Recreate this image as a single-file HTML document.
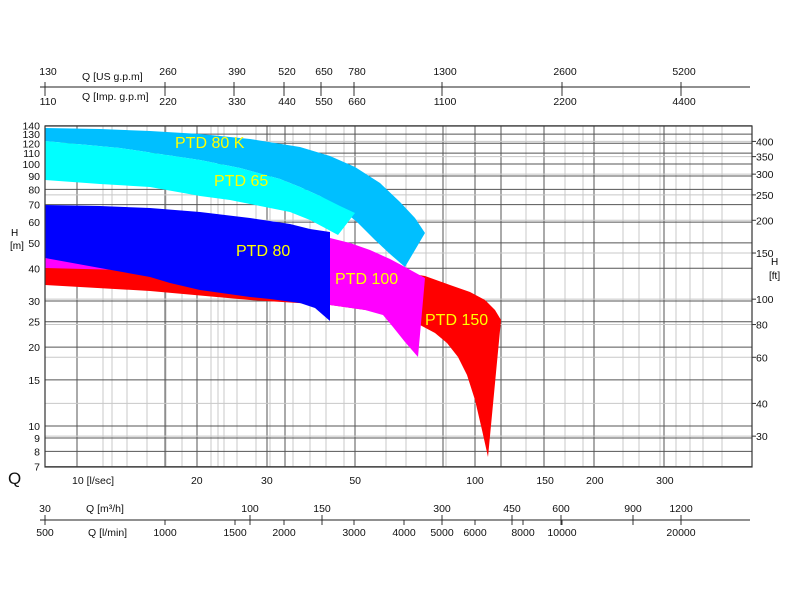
<!DOCTYPE html>
<html><head><meta charset="utf-8"><style>
html,body{margin:0;padding:0;background:#fff}
svg{display:block;font-family:"Liberation Sans",Arial,sans-serif}
</style></head><body>
<svg id="s" width="800" height="600" viewBox="0 0 800 600" xmlns="http://www.w3.org/2000/svg">
<g id="grid"></g>
<path fill="#ff0000" d="M45,267 L120,268 L170,270 L210,273 L260,280 L330,288 L400,272 L425,276 L450,285 L470,292 L485,300 L495,310 L501,320 L488,457 L482,430 L475,400 L467,375 L458,357 L447,343 L435,333 L420,325 L400,316 L380,312 L330,305 L250,300 L150,291 L45,285 Z"/>
<path fill="#ff00ff" d="M45,258 L170,266 L300,280 L330,238 L350,243 L370,250 L390,259 L405,267 L425,278 L418,357 L405,342 L393,327 L383,315 L365,310 L330,305 L330,290 L200,272 L45,268 Z"/>
<path fill="#00bfff" d="M45,128 L100,129 L150,131 L200,134 L250,139 L300,147 L330,156 L355,167 L380,183 L400,202 L415,218 L425,233 L405,267 L390,254 L375,240 L357,222 L340,208 L320,196 L300,187 L280,179 L240,168 L200,160 L120,148 L45,141 Z"/>
<path fill="#00ffff" d="M45,141 L120,148 L200,160 L240,168 L280,179 L300,187 L320,196 L340,206 L355,213 L338,235 L325,228 L310,220 L290,212 L260,206 L230,200 L200,196 L150,187 L100,184 L45,180 Z"/>
<path fill="#0000ff" d="M45,205 L100,206 L150,208 L200,212 L250,218 L290,224 L310,229 L330,232 L330,321 L315,308 L300,303 L270,299 L250,297 L200,290 L170,283 L150,277 L100,268 L45,258 Z"/>
<g fill="#ffff00" font-size="16">
<text x="175" y="148">PTD 80 K</text>
<text x="214" y="186">PTD 65</text>
<text x="236" y="256">PTD 80</text>
<text x="335" y="284">PTD 100</text>
<text x="425" y="325">PTD 150</text>
</g>
<rect x="45" y="126" width="707" height="341" fill="none" stroke="#333" stroke-width="1.2"/>
<g id="ax" font-size="10.5" fill="#111"></g>
<g stroke="#222" stroke-width="1">
<line x1="40" y1="87" x2="750" y2="87"/>
<line x1="40" y1="520" x2="750" y2="520"/>
</g>
<text x="8" y="484" font-size="17" fill="#111">Q</text>
<text x="11" y="236" font-size="10">H</text>
<text x="10" y="249" font-size="10">[m]</text>
<text x="771" y="265" font-size="10">H</text>
<text x="769" y="279" font-size="10">[ft]</text>
</svg>
<script>
const NS="http://www.w3.org/2000/svg";
const L=45,R=752,T=126,B=467;
const X=q=>77+398*Math.log10(q/10);
const Y=h=>426-262*Math.log10(h/10);
const g=document.getElementById('grid'),ax=document.getElementById('ax');
function ln(p,x1,y1,x2,y2,c,w){const e=document.createElementNS(NS,'line');e.setAttribute('x1',x1);e.setAttribute('y1',y1);e.setAttribute('x2',x2);e.setAttribute('y2',y2);e.setAttribute('stroke',c);e.setAttribute('stroke-width',w||1);p.appendChild(e);}
function tx(x,y,s,a){const e=document.createElementNS(NS,'text');e.setAttribute('x',x);e.setAttribute('y',y);if(a)e.setAttribute('text-anchor',a);e.textContent=s;ax.appendChild(e);}
[103,112,127,147,166,182,211,218,224,237,256,270,293,310,326,344,386,406,426,446,526,565,583,623,639,660,676,690,703,722].forEach(x=>ln(g,x,T,x,B,'#c8c8c8'));
[77,165,197,267,285,355,443,475,501,544,594,664].forEach(x=>ln(g,x,T,x,B,'#555'));
[30,40,60,80,100,150,200,250,300,350,400].forEach(f=>{const y=Y(f/3.28);if(y>T&&y<B)ln(g,L,y,R,y,'#c8c8c8');});
[7,8,9,10,15,20,25,30,40,50,60,70,80,90,100,110,120,130,140].forEach(h=>{ln(g,L,Y(h),R,Y(h),'#555');tx(40,Y(h)+4,h,'end');});
[30,40,60,80,100,150,200,250,300,350,400].forEach(f=>{const y=Y(f/3.28);ln(ax,R,y,R+4,y,'#333');tx(756,y+4,f);});
[[10,'10   [l/sec]',72],[20,'20'],[30,'30'],[50,'50'],[100,'100'],[150,'150'],[200,'200'],[300,'300']].forEach(a=>{if(a[2])tx(a[2],484,a[1]);else tx(X(a[0]),484,a[1],'middle');});
[[45,'130','110'],[165,'260','220'],[234,'390','330'],[284,'520','440'],[321,'650','550'],[354,'780','660'],[442,'1300','1100'],[562,'2600','2200'],[681,'5200','4400']].forEach(a=>{ln(ax,a[0],82,a[0],96,'#333');tx(a[0]+3,75,a[1],'middle');tx(a[0]+3,105,a[2],'middle');});
tx(82,80,'Q  [US g.p.m]');tx(82,100,'Q  [Imp. g.p.m]');
[[45,'30'],[250,'100'],[322,'150'],[442,'300'],[512,'450'],[561,'600'],[633,'900'],[681,'1200']].forEach(a=>{ln(ax,a[0],515,a[0],525,'#333');tx(a[0],512,a[1],'middle');});
[[45,'500'],[165,'1000'],[235,'1500'],[284,'2000'],[354,'3000'],[404,'4000'],[442,'5000'],[475,'6000'],[523,'8000'],[562,'10000'],[681,'20000']].forEach(a=>{ln(ax,a[0],520,a[0],525,'#333');tx(a[0],536,a[1],'middle');});
tx(86,512,'Q [m³/h]');tx(88,536,'Q  [l/min]');
</script>
</body></html>
